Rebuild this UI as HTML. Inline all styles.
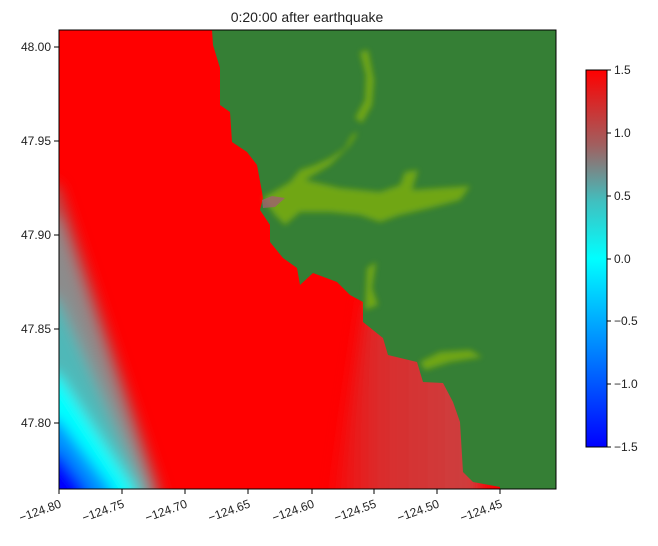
<!DOCTYPE html>
<html><head><meta charset="utf-8"><style>
body{margin:0;background:#fff;}
svg text{font-family:"Liberation Sans",sans-serif;font-size:12px;fill:#222;}
</style></head><body>
<svg width="658" height="541" xmlns="http://www.w3.org/2000/svg">
<defs>
<linearGradient id="cb" x1="0" y1="0" x2="0" y2="1">
<stop offset="0" stop-color="#ff0000"/>
<stop offset="0.2" stop-color="#a06060"/>
<stop offset="0.25" stop-color="#808080"/>
<stop offset="0.35" stop-color="#40c0c0"/>
<stop offset="0.5" stop-color="#00ffff"/>
<stop offset="0.75" stop-color="#0080ff"/>
<stop offset="1" stop-color="#0000ff"/>
</linearGradient>
<linearGradient id="sw" gradientUnits="userSpaceOnUse" x1="320" y1="0" x2="470" y2="0">
<stop offset="0" stop-color="#d03838" stop-opacity="0"/>
<stop offset="0.4" stop-color="#d03838" stop-opacity="0.8"/>
<stop offset="1" stop-color="#cc4040" stop-opacity="1"/>
</linearGradient>
<filter id="bl"><feGaussianBlur stdDeviation="3"/></filter>
<filter id="b8" x="-50%" y="-50%" width="200%" height="200%"><feGaussianBlur stdDeviation="8"/></filter>
<filter id="b6" x="-50%" y="-50%" width="200%" height="200%"><feGaussianBlur stdDeviation="7"/></filter>
<clipPath id="cp"><rect x="59" y="30" width="497" height="459"/></clipPath>
</defs>
<g clip-path="url(#cp)">
<rect x="59" y="30" width="497" height="459" fill="#ff0000"/>
<g filter="url(#b6)">
<polygon points="59,186 160,489 165,540 10,540 10,170" fill="#b85050"/>
<polygon points="59,220 152,489 156,540 10,540 10,200" fill="#8c8c8c"/>
<polygon points="59,300 144,489 148,540 10,540 10,280" fill="#50b8b8"/>
<polygon points="59,375 134,489 138,540 10,540 10,360" fill="#00ffff"/>
<polygon points="59,420 112,489 116,540 10,540 10,410" fill="#0090ff"/>
<polygon points="59,452 88,489 92,540 10,540 10,445" fill="#0000ff"/>
</g>
<polygon points="365,300 480,300 480,520 330,520" fill="url(#sw)" filter="url(#b8)"/>
<polygon fill="#357f35" points="212,30 213,45 220,68 220,105 230,112 232,142 247,152 257,165 262,192 263,198 260,210 270,225 270,242 283,258 297,268 300,285 313,273 337,282 350,295 363,302 363,322 383,338 388,355 417,362 423,382 443,383 453,402 460,422 463,472 473,482 500,487 500,489 556,489 556,30"/>
<g fill="#7fb010" opacity="0.8" filter="url(#bl)">
<polygon points="263,198 290,182 300,170 315,165 330,158 345,148 352,135 358,132 350,145 330,165 305,180 340,188 380,192 400,185 405,172 418,170 412,190 440,188 470,186 460,200 430,208 400,215 380,222 360,215 330,212 300,212 285,225 275,215"/>
<polygon points="355,118 365,100 366,75 360,52 368,50 374,80 372,105 362,123"/>
<polygon points="367,268 376,262 372,288 378,305 365,310"/>
<polygon points="420,362 440,352 470,350 482,357 450,362 425,370"/>
</g>
<polygon points="262,200 272,196 285,198 275,207 263,208" fill="#a06070" opacity="0.8"/>
</g>
<rect x="59" y="30" width="497" height="459" fill="none" stroke="#000" stroke-width="1"/>
<text x="307" y="22" text-anchor="middle" style="font-size:14px">0:20:00 after earthquake</text>
<g stroke="#000">
<line x1="59" y1="489" x2="59" y2="494"/><line x1="122" y1="489" x2="122" y2="494"/><line x1="185" y1="489" x2="185" y2="494"/><line x1="248" y1="489" x2="248" y2="494"/><line x1="312" y1="489" x2="312" y2="494"/><line x1="374" y1="489" x2="374" y2="494"/><line x1="437" y1="489" x2="437" y2="494"/><line x1="500" y1="489" x2="500" y2="494"/>
<line x1="54" y1="47" x2="59" y2="47"/><line x1="54" y1="141" x2="59" y2="141"/><line x1="54" y1="235" x2="59" y2="235"/><line x1="54" y1="329" x2="59" y2="329"/><line x1="54" y1="423" x2="59" y2="423"/>
</g>
<g text-anchor="end">
<text transform="translate(62,507) rotate(-20)">−124.80</text>
<text transform="translate(125,507) rotate(-20)">−124.75</text>
<text transform="translate(188,507) rotate(-20)">−124.70</text>
<text transform="translate(251,507) rotate(-20)">−124.65</text>
<text transform="translate(315,507) rotate(-20)">−124.60</text>
<text transform="translate(377,507) rotate(-20)">−124.55</text>
<text transform="translate(440,507) rotate(-20)">−124.50</text>
<text transform="translate(503,507) rotate(-20)">−124.45</text>
<text x="51" y="51">48.00</text><text x="51" y="145">47.95</text><text x="51" y="239">47.90</text><text x="51" y="333">47.85</text><text x="51" y="427">47.80</text>
</g>
<rect x="586" y="70" width="21" height="377" fill="url(#cb)" stroke="#000" stroke-width="1"/>
<g stroke="#000">
<line x1="607" y1="70" x2="611" y2="70"/><line x1="607" y1="133" x2="611" y2="133"/><line x1="607" y1="196" x2="611" y2="196"/><line x1="607" y1="259" x2="611" y2="259"/><line x1="607" y1="321" x2="611" y2="321"/><line x1="607" y1="384" x2="611" y2="384"/><line x1="607" y1="447" x2="611" y2="447"/>
</g>
<g>
<text x="614" y="74">1.5</text><text x="614" y="137">1.0</text><text x="614" y="200">0.5</text><text x="614" y="263">0.0</text><text x="614" y="325">−0.5</text><text x="614" y="388">−1.0</text><text x="614" y="451">−1.5</text>
</g>
</svg>
</body></html>
